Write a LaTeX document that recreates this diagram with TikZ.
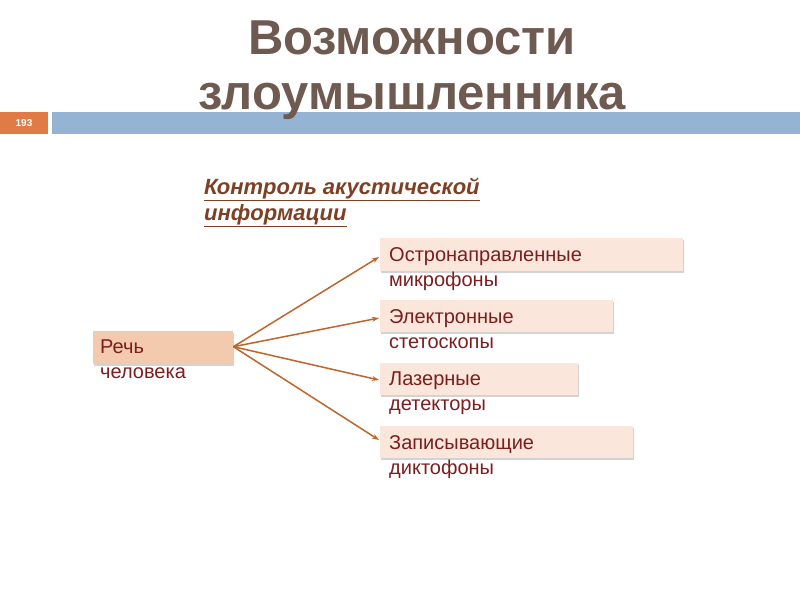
\documentclass[tikz,border=0pt]{standalone}
\usepackage{fontspec}
\setmainfont{Liberation Sans}
\usetikzlibrary{shadows,calc,arrows.meta}
\definecolor{titlec}{HTML}{6E5A50}
\definecolor{numc}{HTML}{E07B45}
\definecolor{barc}{HTML}{95B3D3}
\definecolor{headc}{HTML}{7F3F24}
\definecolor{peach}{HTML}{F4CAAF}
\definecolor{lightp}{HTML}{FBE6DB}
\definecolor{txtc}{HTML}{7A1E1E}
\definecolor{arrc}{HTML}{BF642C}
\tikzset{
  box/.style={rectangle, inner sep=0pt, anchor=north west, drop shadow={opacity=0.35, shadow xshift=1pt, shadow yshift=-2pt}},
  boxtext/.style={anchor=north west, align=left, inner sep=0pt, text=txtc, font=\fontsize{20}{25}\selectfont},
  arr/.style={draw=arrc, line width=1.5pt, -{Stealth[length=7pt,width=5pt]}},
}
\begin{document}
\begin{tikzpicture}[x=1pt,y=-1pt]
\useasboundingbox (0,0) rectangle (800,600);
% slide number and bar
\fill[numc] (0,112) rectangle (48,134);
\node[text=white, font=\fontsize{10}{12}\selectfont\bfseries] (num) at (24,123) {193};
\fill[barc] (52,112) rectangle (800,134);
% title
\node[text=titlec, font=\fontsize{49}{55}\selectfont\bfseries, align=center] (title) at (412,70) {Возможности\\злоумышленника};
% heading
\node[anchor=north west, inner sep=0pt, text=headc, align=left, font=\fontsize{22}{26}\selectfont\bfseries\itshape] (head) at (204,178) {\underline{Контроль акустической}\\\underline{информации}};
% source box
\node[box, fill=peach, minimum width=140, minimum height=33] (src) at (93,331) {};
\node[boxtext] (srct) at (100,340) {Речь\\человека};
% target boxes
\node[box, fill=lightp, minimum width=303, minimum height=33] (b1) at (380,238) {};
\node[boxtext] (t1) at (389,247) {Остронаправленные\\микрофоны};
\node[box, fill=lightp, minimum width=233, minimum height=32] (b2) at (380,300) {};
\node[boxtext] (t2) at (389,309) {Электронные\\стетоскопы};
\node[box, fill=lightp, minimum width=198, minimum height=32] (b3) at (380,363) {};
\node[boxtext] (t3) at (389,372) {Лазерные\\детекторы};
\node[box, fill=lightp, minimum width=253, minimum height=32] (b4) at (380,426) {};
\node[boxtext] (t4) at (389,435) {Записывающие\\диктофоны};
% arrow endpoints
\coordinate (e1) at ($(b1.north west)+(-1,19)$);
\coordinate (e2) at ($(b2.north west)+(-1,18)$);
\coordinate (e3) at ($(b3.north west)+(-1,17)$);
\coordinate (e4) at ($(b4.north west)+(-1,14)$);
\coordinate (s) at ($(src.east)+(0,-1)$);
\draw[arr] (s) -- (e1);
\draw[arr] (s) -- (e2);
\draw[arr] (s) -- (e3);
\draw[arr] (s) -- (e4);
\end{tikzpicture}
\end{document}
